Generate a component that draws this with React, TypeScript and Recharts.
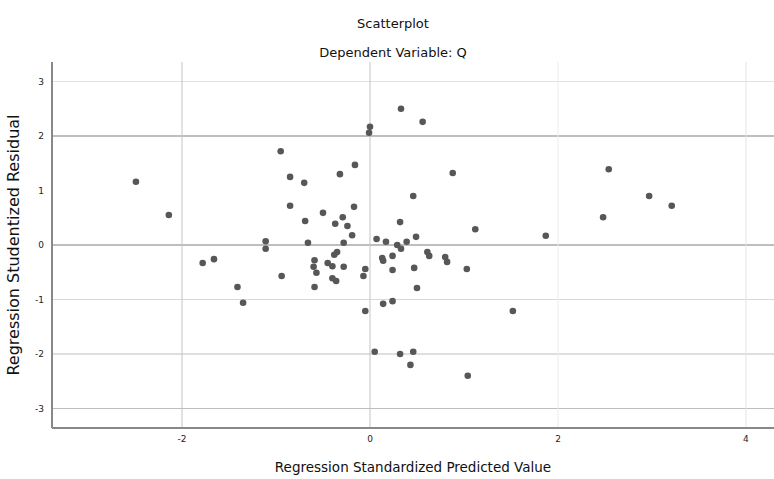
import {
  ScatterChart,
  Scatter,
  XAxis,
  YAxis,
  ReferenceLine,
  Label,
} from "recharts";

// standardized predicted value / studentized residual
const predicted = [
  -2.49, -2.14, -1.78, -1.66, -1.41, -1.35, -1.11, -1.11, -0.94, -0.95,
  -0.85, -0.85, -0.7, -0.69, -0.66, -0.59, -0.6, -0.57, -0.59, -0.5,
  -0.45, -0.4, -0.4, -0.36, -0.37, -0.32, -0.29, -0.24, -0.19, -0.28,
  -0.35, -0.38, -0.28, -0.17, -0.16, -0.05, -0.07, -0.05, 0.0, -0.01,
  0.07, 0.17, 0.13, 0.14, 0.14, 0.05, 0.24, 0.24, 0.24, 0.29,
  0.33, 0.32, 0.33, 0.39, 0.49, 0.46, 0.47, 0.5, 0.32, 0.46,
  0.43, 0.56, 0.61, 0.63, 0.8, 0.82, 0.88, 1.03, 1.04, 1.12,
  1.52, 1.87, 2.48, 2.54, 2.97, 3.21,
];
const residual = [
  1.16, 0.55, -0.33, -0.26, -0.77, -1.06, 0.07, -0.07, -0.57, 1.72,
  1.25, 0.72, 1.14, 0.44, 0.04, -0.28, -0.4, -0.51, -0.77, 0.59,
  -0.33, -0.39, -0.61, -0.66, 0.39, 1.3, 0.51, 0.35, 0.18, 0.04,
  -0.13, -0.18, -0.4, 0.7, 1.47, -0.44, -0.57, -1.21, 2.17, 2.06,
  0.11, 0.06, -0.24, -0.29, -1.08, -1.96, -1.03, -0.2, -0.46, 0.0,
  -0.07, 0.42, 2.5, 0.06, 0.15, 0.9, -0.42, -0.79, -2.0, -1.96,
  -2.2, 2.26, -0.13, -0.2, -0.22, -0.31, 1.32, -0.44, -2.4, 0.29,
  -1.21, 0.17, 0.51, 1.39, 0.9, 0.72,
];

const xTicks = [-2, 0, 2, 4];
const yTicks = [-3, -2, -1, 0, 1, 2, 3];

const data = predicted.map((x, i) => ({ x, y: residual[i] }));

const font = "DejaVu Sans";

export default function App() {
  return (
    <div style={{ position: "relative", width: 774, height: 479, fontFamily: font }}>
      <style>{`body{margin:0}`}</style>
      <div
        style={{
          position: "absolute",
          left: 0,
          width: 786,
          top: 9,
          textAlign: "center",
          fontSize: 13,
          color: "#111",
          lineHeight: "29px",
        }}
      >
        <div>Scatterplot</div>
        <div>Dependent Variable: Q</div>
      </div>
      <ScatterChart
        width={774}
        height={479}
        margin={{ top: 62, right: 0, bottom: 0, left: 0 }}
      >
        <XAxis
          type="number"
          dataKey="x"
          domain={[-3.383, 4.298]}
          ticks={xTicks}
          allowDataOverflow
          height={51}
          stroke="#888"
          strokeWidth={2}
          tickLine={false}
          tick={{ fill: "#222", fontSize: 9, fontFamily: font }}
        >
          <Label
            value="Regression Standardized Predicted Value"
            position="insideBottom"
            offset={7}
            style={{ fill: "#111", fontSize: 13.5, fontFamily: font }}
          />
        </XAxis>
        <YAxis
          type="number"
          dataKey="y"
          domain={[-3.358, 3.358]}
          ticks={yTicks}
          allowDataOverflow
          width={52}
          stroke="#888"
          strokeWidth={2}
          tickLine={false}
          tick={{ fill: "#222", fontSize: 9, fontFamily: font }}
        >
          <Label
            value="Regression Studentized Residual"
            angle={-90}
            position="insideLeft"
            offset={13}
            style={{ fill: "#111", fontSize: 16, fontFamily: font, textAnchor: "middle" }}
          />
        </YAxis>
        <ReferenceLine y={3} stroke="#e2e2e2" />
        <ReferenceLine y={2} stroke="#a8a8a8" strokeWidth={1.5} />
        <ReferenceLine y={0} stroke="#a8a8a8" strokeWidth={1.5} />
        <ReferenceLine y={-1} stroke="#d8d8d8" />
        <ReferenceLine y={-2} stroke="#bdbdbd" />
        <ReferenceLine y={-3} stroke="#bdbdbd" />
        <ReferenceLine x={-2} stroke="#c4c4c4" />
        <ReferenceLine x={0} stroke="#c4c4c4" />
        <ReferenceLine x={2} stroke="#ececec" />
        <ReferenceLine x={4} stroke="#e4e4e4" />
        <Scatter
          data={data}
          fill="#575757"
          isAnimationActive={false}
          shape={(p: any) => <circle cx={p.cx} cy={p.cy} r={3.3} fill="#575757" />}
        />
      </ScatterChart>
    </div>
  );
}
